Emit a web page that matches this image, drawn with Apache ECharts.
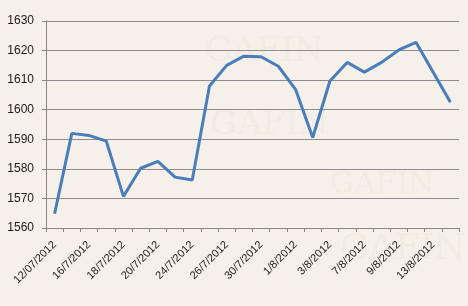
<!DOCTYPE html>
<html>
<head>
<meta charset="utf-8">
<script src="https://cdn.jsdelivr.net/npm/echarts@6/dist/echarts.min.js"></script>
<style>html,body{margin:0;padding:0;background:#f5f0e9;}#c{width:468px;height:306px;}</style>
</head>
<body>
<div id="c"></div>
<script>
var categories = ['12/07/2012','13/7/2012','16/7/2012','17/7/2012','18/7/2012','19/7/2012','20/7/2012','23/7/2012','24/7/2012','25/7/2012','26/7/2012','27/7/2012','30/7/2012','31/7/2012','1/8/2012','2/8/2012','3/8/2012','6/8/2012','7/8/2012','8/8/2012','9/8/2012','10/8/2012','13/8/2012','14/8/2012'];
var values = [1564.8, 1592.0, 1591.3, 1589.4, 1570.7, 1580.2, 1582.5, 1577.2, 1576.2, 1608.0, 1615.0, 1618.1, 1617.9, 1614.7, 1606.9, 1590.6, 1609.7, 1616.0, 1612.7, 1616.0, 1620.2, 1622.8, 1612.7, 1602.5];
var yTicks = {min: 1560, max: 1630, interval: 10};

var chart = echarts.init(document.getElementById('c'));
chart.setOption({
  backgroundColor: '#f5f0e9',
  animation: false,
  graphic: [
    {type:'text', left: 205, top: 35, style:{text:'GAFIN', font:'34px "DejaVu Serif"', fill:'rgba(200,190,170,0.09)'}},
    {type:'text', left: 210, top: 108, style:{text:'GAFIN', font:'34px "DejaVu Serif"', fill:'rgba(200,190,170,0.09)'}},
    {type:'text', left: 330, top: 170, style:{text:'GAFIN', font:'30px "DejaVu Serif"', fill:'rgba(200,190,170,0.09)'}},
    {type:'text', left: 340, top: 232, style:{text:'GAFIN', font:'36px "DejaVu Serif"', fill:'rgba(200,190,170,0.09)'}}
  ],
  grid: {left: 46, right: 9, top: 21, bottom: 78},
  xAxis: {
    type: 'category',
    data: categories,
    boundaryGap: true,
    axisLine: {show: true, lineStyle: {color: '#868686', width: 1}},
    axisTick: {show: true, interval: 0, length: 4, lineStyle: {color: '#868686'}},
    axisLabel: {interval: 1, rotate: 45, fontSize: 11, color: '#1a1a1a', fontFamily: 'Liberation Sans', margin: 15},
    splitLine: {show: false}
  },
  yAxis: {
    type: 'value',
    min: yTicks.min, max: yTicks.max, interval: yTicks.interval,
    axisLine: {show: true, lineStyle: {color: '#868686', width: 1}},
    axisTick: {show: true, length: 4, inside: false, lineStyle: {color: '#868686'}},
    axisLabel: {fontSize: 12, color: '#1a1a1a', fontFamily: 'Liberation Sans', margin: 12, formatter: function(v){ return String(v); }},
    splitLine: {show: true, lineStyle: {color: '#8c8c8c', width: 1}}
  },
  series: [{
    type: 'line',
    data: values,
    symbol: 'none',
    lineStyle: {color: '#4a7ebb', width: 3},
    itemStyle: {color: '#4a7ebb'}
  }]
});
</script>
</body>
</html>
